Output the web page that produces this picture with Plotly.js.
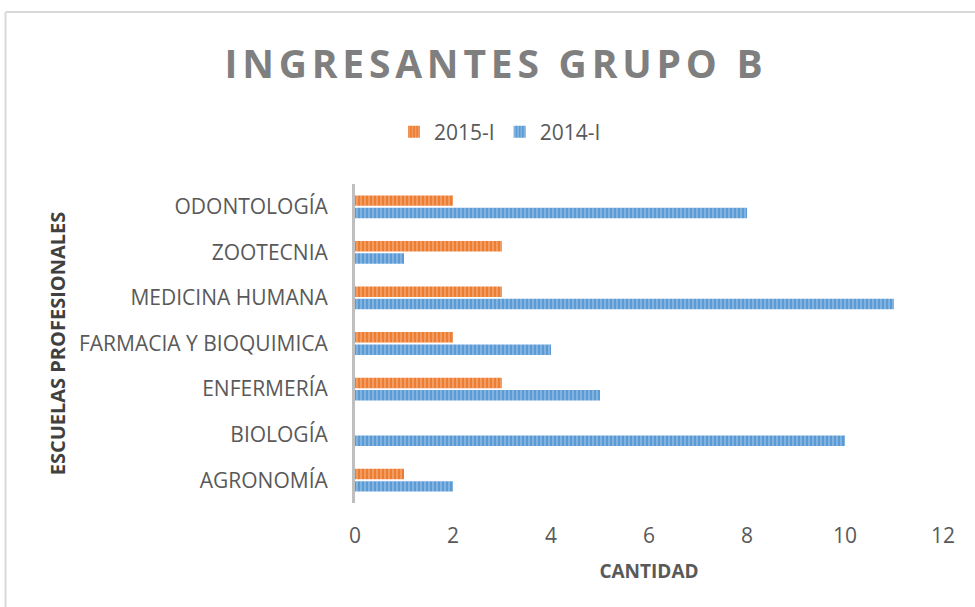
<!DOCTYPE html>
<html>
<head>
<meta charset="utf-8">
<script src="https://cdn.plot.ly/plotly-3.0.1.min.js"></script>
<style>
html,body{margin:0;padding:0;background:#fff;}
#chart{width:975px;height:607px;}
.gtitle{letter-spacing:4.8px;}
</style>
</head>
<body>
<div id="chart"></div>
<script>
const categories = ["AGRONOMÍA","BIOLOGÍA","ENFERMERÍA","FARMACIA Y BIOQUIMICA","MEDICINA HUMANA","ZOOTECNIA","ODONTOLOGÍA"];
const values2014 = [2,10,5,4,11,1,8];
const values2015 = [1,0,3,2,3,3,2];
const seriesNames = ["2014-I","2015-I"];
const xTicks = [0,2,4,6,8,10,12];

const L = 355, R = 32, T = 184, B = 104;
const W = 975, H = 607;
const pw = W - L - R, ph = H - T - B;
function px(x){return (x - L)/pw;}
function py(y){return (H - B - y)/ph;}

const traces = [
  {type:'bar', orientation:'h', name:seriesNames[0], y:categories, x:values2014,
   marker:{color:'#5B9BD5', pattern:{shape:'|', fgcolor:'#9dc3e6', bgcolor:'#5B9BD5', size:4, solidity:0.3}},
   hoverinfo:'x+name'},
  {type:'bar', orientation:'h', name:seriesNames[1], y:categories, x:values2015,
   marker:{color:'#ED7D31', pattern:{shape:'|', fgcolor:'#f4b183', bgcolor:'#ED7D31', size:4, solidity:0.3}},
   hoverinfo:'x+name'}
];

const layout = {
  width:W, height:H,
  margin:{l:L, r:R, t:T, b:B},
  paper_bgcolor:'#fff', plot_bgcolor:'#fff',
  font:{family:'Open Sans, sans-serif', color:'#595959', size:21},
  title:{text:'<b>INGRESANTES GRUPO B</b>', xref:'container', yref:'container', x:496/W, xanchor:'center', y:1-64/H, yanchor:'middle',
         font:{size:39, color:'#7f7f7f', family:'Open Sans, sans-serif'}},
  barmode:'group', bargap:0.46, bargroupgap:0.15,
  showlegend:true,
  legend:{orientation:'h', traceorder:'reversed', x:px(500), xanchor:'center', y:py(132), yanchor:'middle',
          font:{size:21, color:'#595959'}, itemwidth:30},
  xaxis:{range:[0,12], tickvals:xTicks, showgrid:false, zeroline:false, showline:false, ticks:'',
         tickfont:{size:21, color:'#595959'}, ticklabelstandoff:18,
         title:{text:'<b>CANTIDAD</b>', font:{size:19, color:'#595959'}, standoff:16}},
  yaxis:{type:'category', categoryorder:'array', categoryarray:categories, showgrid:false, zeroline:false,
         showline:true, linecolor:'#bfbfbf', linewidth:3, ticks:'', automargin:false,
         tickfont:{size:21, color:'#595959'}, ticklabelstandoff:20,
         title:{text:'<b>ESCUELAS PROFESIONALES</b>', font:{size:20, color:'#404040'}, standoff:8}},
  shapes:[
    {type:'line', xref:'paper', yref:'paper', x0:px(5.5), x1:px(975), y0:py(12), y1:py(12), line:{color:'#d9d9d9', width:2}},
    {type:'line', xref:'paper', yref:'paper', x0:px(5.5), x1:px(5.5), y0:py(12), y1:py(607), line:{color:'#d9d9d9', width:2}}
  ]
};

Plotly.newPlot('chart', traces, layout, {displayModeBar:false, staticPlot:true});
</script>
</body>
</html>
